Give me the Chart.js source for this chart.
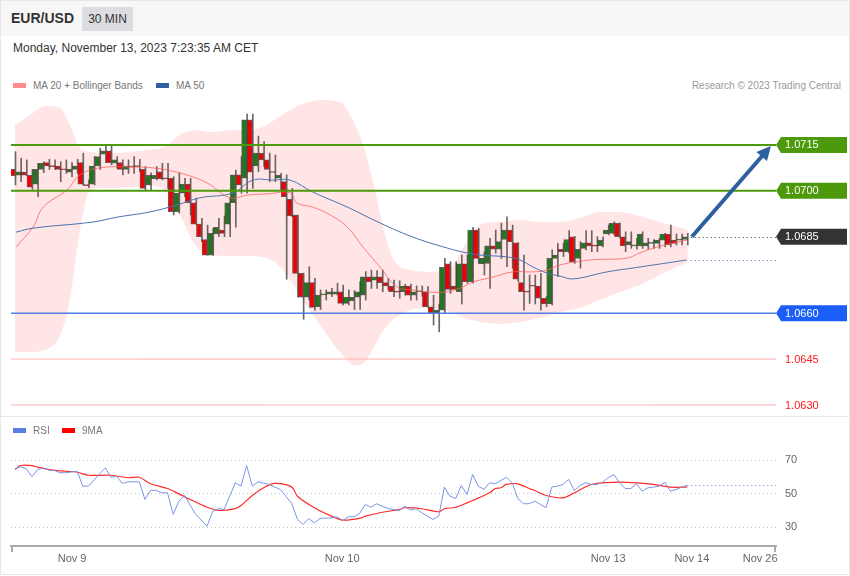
<!DOCTYPE html>
<html>
<head>
<meta charset="utf-8">
<title>EUR/USD 30 MIN</title>
<script src="https://cdn.jsdelivr.net/npm/chart.js@4.4.1/dist/chart.umd.min.js"></script>
<style>
  body { margin: 0; background: #fff; font-family: "Liberation Sans", Arial, sans-serif; }
  #box { position: relative; width: 850px; height: 576px; overflow: hidden; }
  #frame { position: absolute; left: 0; top: 0; width: 848px; height: 573px; border: 1px solid #e8e8e8; }
  #head { position: absolute; left: 1px; top: 1px; width: 848px; height: 35px; background: #f7f7f7; }
  #sym { position: absolute; left: 11px; top: 10px; font-size: 14px; font-weight: bold; color: #333; }
  #tf { position: absolute; left: 82px; top: 7px; width: 51px; height: 24px; line-height: 24px; text-align: center; background: #dcdde1; font-size: 12px; color: #333; }
  #stamp { position: absolute; left: 13px; top: 41px; font-size: 12px; color: #333; }
  .lg { position: absolute; font-size: 10px; color: #777; line-height: 12px; white-space: nowrap; }
  .sw { display: inline-block; width: 13px; height: 5px; vertical-align: middle; margin-right: 7px; position: relative; top: -1px; }
  #credit { position: absolute; right: 9px; top: 80px; font-size: 10px; color: #9a9a9a; line-height: 12px; }
  #sep { position: absolute; left: 0; top: 416px; width: 850px; height: 1px; background: #e8e8e8; }
  canvas { position: absolute; left: 0; }
</style>
</head>
<body>
<div id="box">
  <div id="frame"></div>
  <div id="head"></div>
  <div id="sym">EUR/USD</div>
  <div id="tf">30 MIN</div>
  <div id="stamp">Monday, November 13, 2023 7:23:35 AM CET</div>
  <canvas id="price" width="850" height="324" style="top:92px"></canvas>
  <canvas id="rsi" width="850" height="159" style="top:416px"></canvas>
  <div id="sep"></div>
  <div class="lg" style="left:13px;top:80px"><span class="sw" style="background:#ff8c8c"></span>MA 20 + Bollinger Bands</div>
  <div class="lg" style="left:156px;top:80px"><span class="sw" style="background:#2f5f9f"></span>MA 50</div>
  <div id="credit">Research © 2023 Trading Central</div>
  <div class="lg" style="left:13px;top:425px"><span class="sw" style="background:#5b7fe0"></span>RSI</div>
  <div class="lg" style="left:62px;top:425px"><span class="sw" style="background:#ff0000"></span>9MA</div>
</div>
<script>
// EUR/USD 30 min candles (Nov 8 -> Nov 13 07:00)
const opens = [
  1.07070, 1.07051, 1.07061, 1.07051, 1.07022, 1.07070, 1.07092, 1.07081, 1.07081, 1.07070,
  1.07061, 1.07070, 1.07092, 1.07018, 1.07022, 1.07081, 1.07120, 1.07131, 1.07090, 1.07092,
  1.07070, 1.07081, 1.07079, 1.07070, 1.07019, 1.07040, 1.07062, 1.07040, 1.07041, 1.06932,
  1.06992, 1.07022, 1.06961, 1.06891, 1.06841, 1.06790, 1.06859, 1.06872, 1.06891, 1.06961,
  1.07052, 1.07041, 1.07232, 1.07081, 1.07123, 1.07101, 1.07061, 1.07041, 1.07030, 1.06972,
  1.06921, 1.06730, 1.06652, 1.06700, 1.06621, 1.06660, 1.06662, 1.06662, 1.06670, 1.06632,
  1.06641, 1.06652, 1.06659, 1.06719, 1.06708, 1.06719, 1.06700, 1.06689, 1.06670, 1.06670,
  1.06689, 1.06659, 1.06670, 1.06670, 1.06621, 1.06601, 1.06610, 1.06761, 1.06689, 1.06670,
  1.06761, 1.06703, 1.06872, 1.06761, 1.06763, 1.06820, 1.06809, 1.06841, 1.06872, 1.06830,
  1.06700, 1.06670, 1.06689, 1.06689, 1.06649, 1.06630, 1.06779, 1.06809, 1.06801, 1.06850,
  1.06779, 1.06812, 1.06830, 1.06820, 1.06820, 1.06859, 1.06861, 1.06894, 1.06850, 1.06823,
  1.06820, 1.06820, 1.06820, 1.06828, 1.06828, 1.06839, 1.06859, 1.06839, 1.06839, 1.06841
];
const highs = [
  1.07128, 1.07107, 1.07101, 1.07070, 1.07090, 1.07095, 1.07103, 1.07101, 1.07095, 1.07101,
  1.07092, 1.07103, 1.07123, 1.07036, 1.07112, 1.07139, 1.07150, 1.07150, 1.07112, 1.07101,
  1.07101, 1.07112, 1.07103, 1.07079, 1.07059, 1.07079, 1.07090, 1.07090, 1.07046, 1.07059,
  1.07041, 1.07041, 1.06976, 1.06910, 1.06888, 1.06877, 1.06910, 1.06918, 1.06976, 1.07068,
  1.07112, 1.07251, 1.07251, 1.07179, 1.07161, 1.07123, 1.07117, 1.07057, 1.07052, 1.07008,
  1.06921, 1.06731, 1.06752, 1.06714, 1.06676, 1.06676, 1.06681, 1.06698, 1.06692, 1.06676,
  1.06674, 1.06703, 1.06736, 1.06741, 1.06739, 1.06741, 1.06714, 1.06708, 1.06706, 1.06695,
  1.06695, 1.06689, 1.06689, 1.06687, 1.06659, 1.06630, 1.06779, 1.06768, 1.06768, 1.06790,
  1.06790, 1.06881, 1.06877, 1.06801, 1.06845, 1.06872, 1.06894, 1.06915, 1.06888, 1.06831,
  1.06790, 1.06725, 1.06725, 1.06730, 1.06654, 1.06807, 1.06828, 1.06828, 1.06870, 1.06851,
  1.06834, 1.06870, 1.06870, 1.06850, 1.06850, 1.06888, 1.06899, 1.06895, 1.06866, 1.06866,
  1.06845, 1.06866, 1.06845, 1.06841, 1.06845, 1.06861, 1.06888, 1.06859, 1.06859, 1.06861
];
const lows = [
  1.07019, 1.07030, 1.07049, 1.07005, 1.06981, 1.07059, 1.07070, 1.07070, 1.07030, 1.07057,
  1.07046, 1.07057, 1.07019, 1.07010, 1.07019, 1.07070, 1.07092, 1.07085, 1.07074, 1.07052,
  1.07057, 1.07057, 1.07063, 1.07003, 1.07003, 1.07036, 1.07036, 1.07008, 1.06921, 1.06927,
  1.06981, 1.06921, 1.06890, 1.06834, 1.06789, 1.06789, 1.06850, 1.06850, 1.06850, 1.06881,
  1.06992, 1.06992, 1.07008, 1.07063, 1.07079, 1.07030, 1.07030, 1.07003, 1.06711, 1.06915,
  1.06652, 1.06580, 1.06643, 1.06610, 1.06612, 1.06643, 1.06654, 1.06659, 1.06627, 1.06627,
  1.06612, 1.06612, 1.06643, 1.06681, 1.06681, 1.06670, 1.06676, 1.06654, 1.06649, 1.06659,
  1.06643, 1.06643, 1.06656, 1.06620, 1.06561, 1.06539, 1.06600, 1.06665, 1.06676, 1.06630,
  1.06698, 1.06698, 1.06763, 1.06725, 1.06681, 1.06796, 1.06779, 1.06752, 1.06747, 1.06703,
  1.06610, 1.06632, 1.06630, 1.06610, 1.06621, 1.06627, 1.06719, 1.06785, 1.06796, 1.06763,
  1.06747, 1.06807, 1.06801, 1.06801, 1.06817, 1.06856, 1.06856, 1.06845, 1.06801, 1.06812,
  1.06809, 1.06812, 1.06809, 1.06812, 1.06812, 1.06817, 1.06817, 1.06823, 1.06823, 1.06823
];
const closes = [
  1.07049, 1.07062, 1.07051, 1.07012, 1.07070, 1.07090, 1.07081, 1.07079, 1.07070, 1.07069,
  1.07071, 1.07081, 1.07022, 1.07017, 1.07081, 1.07112, 1.07131, 1.07092, 1.07101, 1.07070,
  1.07081, 1.07077, 1.07081, 1.07008, 1.07051, 1.07051, 1.07040, 1.07039, 1.06932, 1.06992,
  1.07022, 1.06961, 1.06891, 1.06850, 1.06790, 1.06861, 1.06881, 1.06861, 1.06961, 1.07052,
  1.07019, 1.07232, 1.07061, 1.07123, 1.07101, 1.07070, 1.07060, 1.07051, 1.06981, 1.06918,
  1.06730, 1.06652, 1.06700, 1.06619, 1.06659, 1.06662, 1.06670, 1.06670, 1.06632, 1.06652,
  1.06652, 1.06670, 1.06719, 1.06703, 1.06719, 1.06700, 1.06689, 1.06670, 1.06669, 1.06689,
  1.06659, 1.06670, 1.06671, 1.06621, 1.06601, 1.06610, 1.06750, 1.06678, 1.06678, 1.06761,
  1.06703, 1.06872, 1.06779, 1.06779, 1.06820, 1.06809, 1.06834, 1.06872, 1.06834, 1.06711,
  1.06670, 1.06669, 1.06688, 1.06649, 1.06630, 1.06779, 1.06790, 1.06801, 1.06841, 1.06768,
  1.06809, 1.06830, 1.06820, 1.06819, 1.06839, 1.06872, 1.06894, 1.06850, 1.06820, 1.06834,
  1.06821, 1.06859, 1.06830, 1.06830, 1.06839, 1.06859, 1.06823, 1.06828, 1.06840, 1.06850
];

// Bollinger bands (read at candle positions)
const bandIdx = [0, 2.7, 5.3, 8, 9.7, 11.5, 13.3, 16.8, 20.4, 23.9, 26.5, 29.2, 31.9, 34.5, 38.1, 40.7, 43.4, 46,
  48.7, 51.3, 54, 57.5, 60.2, 61.9, 63.7, 65.5, 67.3, 69.9, 73.5, 77, 79.6, 82.3, 85.8, 89.4, 92.9, 96.5, 100,
  103.5, 107.1, 110.6, 114.2, 116.8, 119.1];
const bandUpper = [1.07215, 1.07248, 1.07277, 1.07271, 1.07215, 1.07140, 1.07127, 1.07124, 1.07127, 1.07134,
  1.07143, 1.07183, 1.07199, 1.07192, 1.07199, 1.07199, 1.07205, 1.07232, 1.07264, 1.07287, 1.07297, 1.07290,
  1.07215, 1.07134, 1.07003, 1.06856, 1.06767, 1.06741, 1.06735, 1.06748, 1.06823, 1.06888, 1.06898, 1.06905,
  1.06898, 1.06898, 1.06911, 1.06931, 1.06931, 1.06918, 1.06898, 1.06885, 1.06872];
const bandLower = [1.06473, 1.06473, 1.06480, 1.06529, 1.06643, 1.06872, 1.07003, 1.07009, 1.07012, 1.07016,
  1.07003, 1.06921, 1.06823, 1.06790, 1.06787, 1.06787, 1.06784, 1.06767, 1.06708, 1.06633, 1.06561, 1.06473,
  1.06430, 1.06440, 1.06496, 1.06551, 1.06584, 1.06610, 1.06617, 1.06604, 1.06584, 1.06571, 1.06565, 1.06571,
  1.06584, 1.06604, 1.06617, 1.06643, 1.06669, 1.06692, 1.06725, 1.06748, 1.06767];

const ma20Idx = [0.2, 3.2, 5, 9.2, 11.5, 15, 20.9, 24.4, 26.9, 30.4, 34, 38.1, 41.1, 44.6, 48.7, 49.9, 52.7, 55.8,
  58.8, 61.6, 64.6, 67.6, 70.4, 73.5, 75.8, 78.8, 81.1, 84.6, 88.1, 91.7, 94.2, 96.5, 101.8, 108.3, 110.6, 113.6, 118.9];
const ma20 = [1.06816, 1.06882, 1.06947, 1.07003, 1.07052, 1.07075, 1.07078, 1.07075, 1.07068, 1.07052, 1.07026,
  1.06977, 1.06986, 1.06990, 1.06993, 1.06960, 1.06947, 1.06921, 1.06882, 1.06816, 1.06751, 1.06686, 1.06676,
  1.06669, 1.06669, 1.06682, 1.06702, 1.06718, 1.06735, 1.06735, 1.06741, 1.06758, 1.06774, 1.06780, 1.06797,
  1.06816, 1.06839];

const ma50Idx = [0.2, 3.2, 13.8, 18.1, 23.9, 28.7, 32.7, 38.6, 42.1, 45.7, 48.7, 52.7, 58.8, 64.6, 70.4, 76.5, 80,
  82.3, 87.1, 89.4, 91.7, 94.2, 96.5, 98.8, 104.8, 110.6, 118.9];
const ma50 = [1.06865, 1.06878, 1.06898, 1.06914, 1.06931, 1.06954, 1.06977, 1.06993, 1.07035, 1.07035, 1.07035,
  1.06996, 1.06947, 1.06895, 1.06849, 1.06813, 1.06797, 1.06790, 1.06784, 1.06774, 1.06751, 1.06731, 1.06721,
  1.06712, 1.06735, 1.06751, 1.06774];

// RSI panel
const rsiIdx = [0, 1, 2, 3, 4, 5, 6, 7, 8, 9, 11, 12, 13, 15, 16, 17, 18, 19, 20, 22, 23, 24, 25, 26, 27, 28, 29, 30,
  32, 34, 35, 36, 37, 39, 40, 41, 42, 43, 45, 46, 47, 49, 50, 51, 52, 53, 54, 56, 57, 58, 59, 60, 61, 62, 63, 64,
  65, 66, 68, 69, 70, 71, 72, 73, 74, 75, 76, 77, 78, 79, 80, 81, 82, 83, 84, 85, 87, 88, 89, 90, 91, 92, 93, 94,
  95, 96, 97, 98, 99, 100, 101, 102, 103, 104, 105, 106, 107, 108, 109, 110, 111, 112, 113, 114, 115, 116, 117,
  118, 119];
const rsiVals = [64.7, 66.0, 64.7, 60.0, 64.3, 65.3, 63.9, 63.7, 62.4, 62.4, 63.3, 54.4, 54.4, 61.8, 65.3, 59.7,
  60.3, 56.0, 57.0, 57.0, 46.4, 52.0, 51.8, 50.4, 50.4, 37.5, 45.4, 48.8, 37.5, 30.5, 39.4, 41.0, 40.4, 56.4,
  54.4, 66.7, 54.4, 57.0, 55.4, 53.8, 52.4, 43.9, 34.5, 31.5, 35.1, 32.5, 35.1, 35.5, 36.1, 33.9, 36.1, 36.1,
  38.1, 43.4, 41.8, 43.9, 42.4, 41.0, 39.9, 42.4, 40.1, 41.0, 38.5, 36.5, 34.5, 36.5, 53.8, 48.4, 47.0, 54.8,
  49.4, 61.3, 54.4, 52.4, 56.4, 55.8, 59.7, 56.4, 47.0, 43.9, 43.9, 45.4, 43.4, 41.5, 53.8, 54.4, 55.4, 58.4,
  51.8, 54.8, 56.4, 55.4, 55.4, 56.7, 59.4, 61.3, 56.4, 53.0, 53.0, 55.8, 51.4, 53.4, 53.8, 54.4, 56.7, 51.4,
  52.4, 53.8, 54.9];
const sigIdx = [0, 1, 3, 4, 6, 9, 11, 13, 17, 20, 22, 24, 27, 29, 31, 34, 36, 39, 40, 42, 44, 46, 49, 50, 53, 56,
  58, 61, 62, 65, 68, 69, 72, 75, 76, 78, 80, 81, 84, 85, 86, 87, 89, 91, 92, 94, 97, 99, 102, 106, 110, 113, 116, 119];
const sigVals = [64.3, 66.7, 66.7, 65.7, 64.3, 63.3, 62.7, 60.9, 60.9, 59.4, 59.7, 55.8, 53.0, 49.8, 46.4, 41.8,
  39.9, 41.0, 42.8, 48.8, 53.4, 56.0, 53.8, 48.4, 41.5, 36.5, 34.1, 35.1, 36.5, 38.8, 40.4, 41.5, 40.9, 39.1,
  40.9, 41.8, 44.4, 45.8, 50.4, 53.0, 53.4, 55.4, 55.8, 53.0, 51.8, 48.8, 47.4, 50.4, 55.4, 56.7, 56.4, 55.4,
  53.8, 53.8];

const levelValues = [1.0715, 1.0700, 1.0660, 1.0645, 1.0630];
const targetLevel = 1.0715;
const dateLabels = ['Nov 9', 'Nov 10', 'Nov 13', 'Nov 14', 'Nov 26'];
const datePos = [10.1, 57.9, 105, 119.8, 131.9];

// styles
const levelStyles = [
  { line: '#4c9a0b', width: 2, tag: '#4c9a0b' },
  { line: '#4c9a0b', width: 2, tag: '#4c9a0b' },
  { line: '#4f7fe3', width: 1.5, tag: '#1a5df7' },
  { line: '#ffb0b0', width: 1, text: '#ff1a1a' },
  { line: '#ffb0b0', width: 1, text: '#ff1a1a' }
];
const X_MIN = -0.71, X_MAX = 134.7;
Chart.defaults.font.family = '"Liberation Sans", Arial, sans-serif';

const pts = (xs, ys) => xs.map((x, k) => ({ x: x, y: ys[k] }));
const idx = closes.map((c, i) => i);

function tag(ctx, yc, color, label) {
  ctx.beginPath();
  ctx.moveTo(776, yc);
  ctx.lineTo(781, yc - 8);
  ctx.lineTo(847, yc - 8);
  ctx.lineTo(847, yc + 8);
  ctx.lineTo(781, yc + 8);
  ctx.closePath();
  ctx.fillStyle = color;
  ctx.fill();
  ctx.fillStyle = '#fff';
  ctx.fillText(label, 785, yc + 0.5);
}

const overlay = {
  id: 'overlay',
  afterDatasetsDraw(chart) {
    const { ctx, chartArea: a, scales: { x, y } } = chart;
    const last = closes.length - 1;
    ctx.save();
    // dotted continuations
    ctx.lineWidth = 1;
    ctx.setLineDash([1, 3]);
    const yc = Math.round(y.getPixelForValue(closes[last])) + 0.5;
    ctx.strokeStyle = '#333';
    ctx.beginPath(); ctx.moveTo(x.getPixelForValue(last + 0.6), yc); ctx.lineTo(a.right, yc); ctx.stroke();
    const ym = Math.round(y.getPixelForValue(ma50[ma50.length - 1])) + 0.5;
    ctx.strokeStyle = '#4a72b0';
    ctx.beginPath(); ctx.moveTo(x.getPixelForValue(last + 0.6), ym); ctx.lineTo(a.right, ym); ctx.stroke();
    ctx.setLineDash([]);

    // levels
    levelValues.forEach((v, k) => {
      const st = levelStyles[k];
      const yy = y.getPixelForValue(v);
      ctx.strokeStyle = st.line;
      ctx.lineWidth = st.width;
      ctx.beginPath(); ctx.moveTo(a.left, yy); ctx.lineTo(a.right, yy); ctx.stroke();
    });

    // arrow to target
    const x0 = x.getPixelForValue(last + 0.8), y0 = y.getPixelForValue(closes[last]);
    const x1 = x.getPixelForValue(133.8), y1 = y.getPixelForValue(targetLevel) + 1;
    const ang = Math.atan2(y1 - y0, x1 - x0);
    const hl = 14, hw = 7;
    const bx = x1 - hl * Math.cos(ang), by = y1 - hl * Math.sin(ang);
    ctx.strokeStyle = '#2e5f9e';
    ctx.fillStyle = '#2e5f9e';
    ctx.lineWidth = 4;
    ctx.beginPath(); ctx.moveTo(x0, y0); ctx.lineTo(bx + 2 * Math.cos(ang), by + 2 * Math.sin(ang)); ctx.stroke();
    ctx.beginPath();
    ctx.moveTo(x1, y1);
    ctx.lineTo(bx + hw * Math.sin(ang), by - hw * Math.cos(ang));
    ctx.lineTo(bx - hw * Math.sin(ang), by + hw * Math.cos(ang));
    ctx.closePath();
    ctx.fill();

    // price tags
    ctx.font = '11px "Liberation Sans", Arial, sans-serif';
    ctx.textBaseline = 'middle';
    ctx.textAlign = 'left';
    levelValues.forEach((v, k) => {
      const st = levelStyles[k];
      const yy = y.getPixelForValue(v);
      if (st.tag) {
        tag(ctx, yy, st.tag, v.toFixed(4));
      } else {
        ctx.fillStyle = st.text;
        ctx.fillText(v.toFixed(4), 785, yy + 0.5);
      }
    });
    tag(ctx, y.getPixelForValue(closes[last]), '#333333', closes[last].toFixed(4));
    ctx.restore();
  }
};

new Chart(document.getElementById('price'), {
  type: 'bar',
  data: {
    datasets: [
      { type: 'line', data: pts(bandIdx, bandUpper), borderWidth: 0, pointRadius: 0, fill: '+1',
        backgroundColor: 'rgba(255,0,0,0.1)', cubicInterpolationMode: 'monotone', order: 10 },
      { type: 'line', data: pts(bandIdx, bandLower), borderWidth: 0, pointRadius: 0, fill: false,
        cubicInterpolationMode: 'monotone', order: 10 },
      { data: idx.map(i => ({ x: i, y: [lows[i], highs[i]] })), backgroundColor: 'rgba(85,75,75,0.85)',
        barThickness: 1, order: 5 },
      { data: idx.map(i => ({ x: i, y: [opens[i], closes[i]] })),
        backgroundColor: idx.map(i => closes[i] >= opens[i] ? '#1c7a1c' : '#f00000'),
        borderColor: 'rgba(70,55,55,0.8)', borderWidth: 1, borderSkipped: false,
        barThickness: 5, minBarLength: 1, order: 4 },
      { type: 'line', data: pts(ma20Idx, ma20), borderColor: 'rgba(255,90,90,0.75)', borderWidth: 1,
        pointRadius: 0, tension: 0.4, order: 2 },
      { type: 'line', data: pts(ma50Idx, ma50), borderColor: '#4a72b0', borderWidth: 1,
        pointRadius: 0, tension: 0.4, order: 1 }
    ]
  },
  options: {
    responsive: false,
    animation: false,
    events: [],
    layout: { padding: { left: 11, right: 74, top: 0, bottom: 0 } },
    plugins: { legend: { display: false }, tooltip: { enabled: false } },
    scales: {
      x: { type: 'linear', min: X_MIN, max: X_MAX, display: false, offset: false },
      y: { min: 1.06264, max: 1.07323, display: false }
    }
  },
  plugins: [overlay]
});

const rsiOverlay = {
  id: 'rsiOverlay',
  afterDatasetsDraw(chart) {
    const { ctx, chartArea: a, scales: { x, y } } = chart;
    ctx.save();
    const lastI = rsiIdx[rsiIdx.length - 1];
    const yr = Math.round(y.getPixelForValue(rsiVals[rsiVals.length - 1])) + 0.5;
    ctx.strokeStyle = '#6f8be6';
    ctx.lineWidth = 1;
    ctx.setLineDash([1, 3]);
    ctx.beginPath(); ctx.moveTo(x.getPixelForValue(lastI), yr); ctx.lineTo(a.right, yr); ctx.stroke();
    ctx.setLineDash([]);
    ctx.strokeStyle = '#aaa';
    ctx.lineWidth = 2;
    ctx.beginPath();
    ctx.moveTo(a.left + 1, a.bottom); ctx.lineTo(a.left + 1, a.bottom + 6);
    ctx.moveTo(a.right - 1, a.bottom); ctx.lineTo(a.right - 1, a.bottom + 6);
    ctx.stroke();
    ctx.restore();
  }
};

new Chart(document.getElementById('rsi'), {
  type: 'line',
  data: {
    datasets: [
      { data: pts(rsiIdx, rsiVals), borderColor: '#7a95e6', borderWidth: 1, pointRadius: 0, tension: 0 },
      { data: pts(sigIdx, sigVals), borderColor: '#ff2b2b', borderWidth: 1.2, pointRadius: 0, tension: 0.3 }
    ]
  },
  options: {
    responsive: false,
    animation: false,
    events: [],
    layout: { padding: { left: 11, right: 0, top: 24, bottom: 0 } },
    plugins: { legend: { display: false }, tooltip: { enabled: false } },
    scales: {
      x: {
        type: 'linear', min: X_MIN, max: X_MAX,
        grid: { display: false, drawTicks: false },
        border: { color: '#aaa', width: 2 },
        afterBuildTicks: s => { s.ticks = datePos.map(v => ({ value: v })); },
        afterFit: s => { s.height = 29; },
        ticks: { autoSkip: false, maxRotation: 0, padding: 6, color: '#666', font: { size: 11 },
          callback: (v, i) => dateLabels[i] }
      },
      y: {
        position: 'right', min: 18.66, max: 81.94,
        afterBuildTicks: s => { s.ticks = [30, 50, 70].map(v => ({ value: v })); },
        afterFit: s => { s.width = 74; },
        grid: { color: '#c4c4c4', drawTicks: false },
        border: { display: false, dash: [1, 3] },
        ticks: { padding: 9, color: '#666', font: { size: 11 }, callback: v => v }
      }
    }
  },
  plugins: [rsiOverlay]
});
</script>
</body>
</html>
